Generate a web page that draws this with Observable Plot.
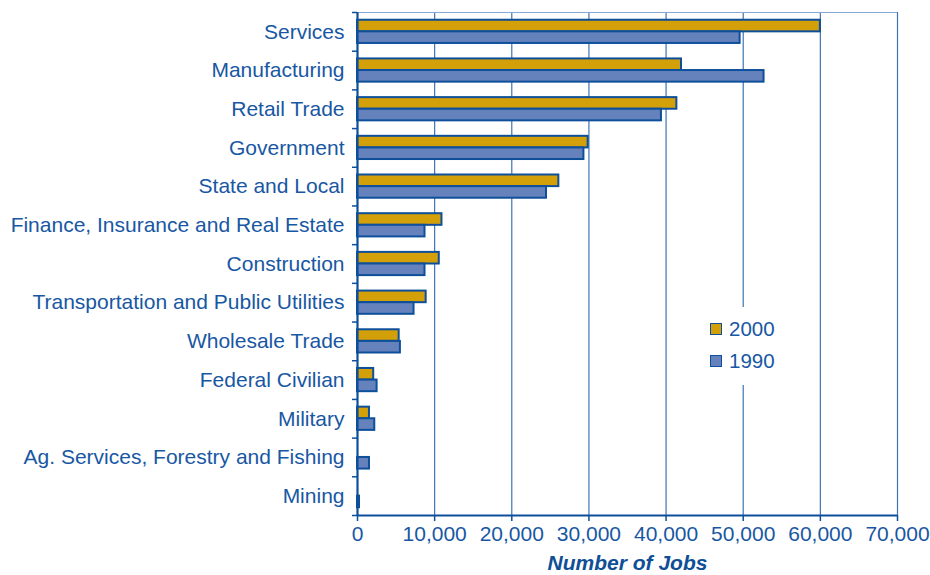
<!DOCTYPE html>
<html><head><meta charset="utf-8">
<script src="https://cdn.jsdelivr.net/npm/d3@7"></script>
<script src="https://cdn.jsdelivr.net/npm/@observablehq/plot@0.6"></script>
<style>
body{margin:0;background:#fff;font-family:"Liberation Sans",Arial,Helvetica,sans-serif;}
#wrap{position:relative;width:930px;height:575px;}
#legend{position:absolute;left:700px;top:307px;width:92px;height:78px;background:#fff;}
.item{position:absolute;left:10px;height:24px;display:flex;align-items:center;color:#1857a3;font-size:20.5px;}
.sw{width:10px;height:10px;border:1.6px solid #0d4f9a;margin-right:7px;}
</style></head>
<body><div id="wrap"><div id="chart"></div><div id="legend"></div></div>
<script>
const categories = ["Services","Manufacturing","Retail Trade","Government","State and Local",
  "Finance, Insurance and Real Estate","Construction","Transportation and Public Utilities",
  "Wholesale Trade","Federal Civilian","Military","Ag. Services, Forestry and Fishing","Mining"];
const jobs2000 = [60000, 42000, 41400, 29900, 26100, 10950, 10600, 8900, 5400, 2100, 1550, null, null];
const jobs1990 = [49600, 52700, 39400, 29350, 24500, 8750, 8750, 7330, 5560, 2540, 2240, 1550, 260];
const series = ["2000", "1990"];
const seriesColors = ["#d4a00a", "#6682bd"];
const xTicks = [0, 10000, 20000, 30000, 40000, 50000, 60000, 70000];

const textColor = "#1857a3";
const darkBlue = "#0d4f9a";
const gridBlue = "#3d73b4";

const rows = [];
categories.forEach((c, i) => {
  [jobs2000, jobs1990].forEach((arr, s) => {
    if (arr[i] != null) rows.push({cat: c, idx: i, series: series[s], value: arr[i], s});
  });
});

const chart = Plot.plot({
  width: 930,
  height: 575,
  marginLeft: 357,
  marginRight: 33,
  marginTop: 12,
  marginBottom: 60,
  style: {fontFamily: '"Liberation Sans", Arial, sans-serif', fontSize: "21px", color: textColor, background: "#fff"},
  x: {domain: [0, 70000]},
  y: {domain: [0, categories.length], reverse: true},
  color: {domain: series, range: seriesColors},
  marks: [
    Plot.ruleX(xTicks.slice(1), {stroke: gridBlue, strokeWidth: 1.2}),
    Plot.ruleY([0], {stroke: "#8aa9d4", strokeWidth: 1}),
    Plot.rectX(rows, {
      x1: 0, x2: "value",
      y1: d => d.idx + (d.s === 0 ? 0.2 : 0.5),
      y2: d => d.idx + (d.s === 0 ? 0.5 : 0.8),
      fill: "series", stroke: darkBlue, strokeWidth: 2
    }),
    Plot.axisY({ticks: d3.range(categories.length + 1), tickSize: 5, tickFormat: () => "", stroke: darkBlue, strokeWidth: 1.5}),
    Plot.axisY({ticks: categories.map((d, i) => i + 0.5), tickSize: 0, tickPadding: 13,
      tickFormat: v => categories[Math.floor(v)], fill: textColor, fontSize: 21, label: null}),
    Plot.axisX({ticks: xTicks, tickSize: 6, tickPadding: 5, tickFormat: d3.format(","),
      stroke: darkBlue, strokeWidth: 1.5, fill: textColor, fontSize: 21, label: null}),
    Plot.ruleX([0], {stroke: darkBlue, strokeWidth: 2.2}),
    Plot.ruleY([categories.length], {stroke: darkBlue, strokeWidth: 2.2}),
    Plot.text(["Number of Jobs"], {frameAnchor: "bottom", lineAnchor: "middle", dy: 48, fontWeight: "bold", fontStyle: "italic",
      fontSize: 21, fill: "#0f4f96"})
  ]
});
document.getElementById("chart").appendChild(chart);

const legend = document.getElementById("legend");
series.forEach((s, i) => {
  const item = document.createElement("div");
  item.className = "item";
  item.style.top = (10 + i * 32) + "px";
  const sw = document.createElement("div");
  sw.className = "sw";
  sw.style.background = seriesColors[i];
  const t = document.createElement("span");
  t.textContent = s;
  item.appendChild(sw); item.appendChild(t);
  legend.appendChild(item);
});
</script>
</body></html>
